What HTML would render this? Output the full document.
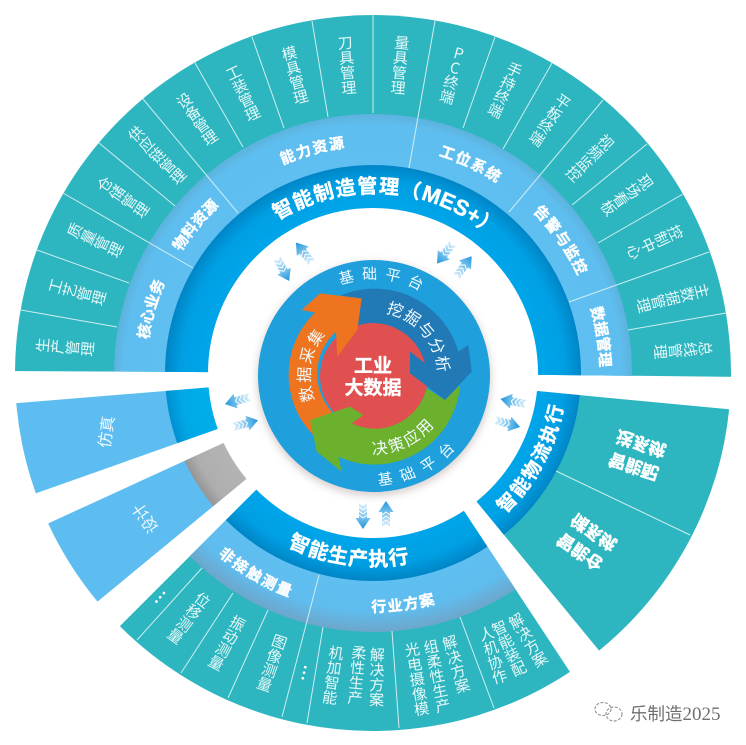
<!DOCTYPE html>
<html><head><meta charset="utf-8">
<style>
html,body{margin:0;padding:0;background:#fff;width:746px;height:745px;overflow:hidden}
svg{display:block}
text{font-family:"Liberation Sans","Noto Sans CJK SC",sans-serif}
.v{writing-mode:vertical-rl;text-anchor:middle;font-size:15px;fill:#e6f8f8;font-family:"Noto Sans CJK SC",sans-serif;font-weight:400}
.b{font-weight:700;fill:#fff;font-size:15px;text-anchor:middle;stroke:#fff;stroke-width:.35}
.c{fill:#f2fbfe;font-size:15px;text-anchor:middle;font-family:"Noto Sans CJK SC",sans-serif}
.d{stroke:#cdeef0;stroke-width:1;fill:none}
.dot{font-weight:700;font-size:17px;fill:#fff}
</style></head><body>
<svg width="746" height="745" viewBox="0 0 746 745" xmlns="http://www.w3.org/2000/svg">
<defs>
<clipPath id="cTop"><polygon points="0,371 373,373 746,377 746,0 0,0"/></clipPath>
<clipPath id="cRight"><polygon points="373,375.5 800,416 800,895"/></clipPath>
<clipPath id="cBottom"><polygon points="373,373 628,760 -14,760"/></clipPath>
<clipPath id="cLeft"><polygon points="373,374 0,404.5 0,506"/></clipPath>
<clipPath id="cDesign"><polygon points="373,374.5 0,545.5 0,682"/></clipPath>
<radialGradient id="gBlue" gradientUnits="userSpaceOnUse" cx="373" cy="373" r="208">
<stop offset=".79" stop-color="#00a5e9"/><stop offset=".92" stop-color="#009fe3"/><stop offset="1" stop-color="#0085c6"/></radialGradient>
<radialGradient id="gLightT" gradientUnits="userSpaceOnUse" cx="373" cy="373" r="259">
<stop offset=".8" stop-color="#5fbff0"/><stop offset=".96" stop-color="#5fbef0"/><stop offset="1" stop-color="#5cb2dc"/></radialGradient>
<radialGradient id="gLight" gradientUnits="userSpaceOnUse" cx="373" cy="373" r="259">
<stop offset=".8" stop-color="#5fbff0"/><stop offset=".92" stop-color="#5fbdee"/><stop offset="1" stop-color="#6da6cb"/></radialGradient>
<radialGradient id="gLeftBlue" gradientUnits="userSpaceOnUse" cx="373" cy="373" r="208">
<stop offset=".79" stop-color="#00aeea"/><stop offset=".93" stop-color="#00a8e6"/><stop offset="1" stop-color="#0090d0"/></radialGradient>
<radialGradient id="gGray" gradientUnits="userSpaceOnUse" cx="373" cy="373" r="208">
<stop offset=".79" stop-color="#b4b4b4"/><stop offset=".94" stop-color="#aeaeae"/><stop offset="1" stop-color="#959595"/></radialGradient>
<linearGradient id="gAr" gradientUnits="userSpaceOnUse" x1="0" y1="0" x2="26" y2="0">
<stop offset="0" stop-color="#e2f3fb"/><stop offset=".45" stop-color="#8ccbf0"/><stop offset="1" stop-color="#1f96dc"/></linearGradient>
<filter id="sh" x="-20%" y="-20%" width="140%" height="140%"><feGaussianBlur stdDeviation="4"/></filter>
<g id="ar">
<polygon points="0,-4 15,-4 15,-7.5 26,0 15,7.5 15,4 0,4 3,0" fill="url(#gAr)"/>
<path d="M4 -4L7 0L4 4M8 -4L11 0L8 4M12 -4L15 0L12 4" stroke="#fff" stroke-width="1" fill="none"/>
</g>
<path id="t227" d="M212.5 533.5A227 227 0 1 1 533.5 533.5"/>
<path id="t180" d="M193 373A180 180 0 0 1 553 373"/>
<path id="b239" d="M134 373A239 239 0 0 0 612 373"/>
<path id="b193" d="M180 373A193 193 0 0 0 566 373"/>
<path id="h97" d="M277 376A97 97 0 0 1 471 376"/>
<path id="h109" d="M265 376A109 109 0 0 0 483 376"/>
<path id="h64" d="M328.7 421.3A64 64 0 1 1 419.3 421.3"/>
<path id="h78" d="M296 376A78 78 0 0 0 452 376"/>
</defs>

<!-- top sector -->
<g clip-path="url(#cTop)">
<circle cx="373" cy="373" r="358" fill="#2db6c0"/>
<circle cx="373" cy="373" r="259" fill="url(#gLightT)"/>
<circle cx="373" cy="373" r="208" fill="url(#gBlue)"/>
</g>
<!-- right sector -->
<g clip-path="url(#cRight)">
<circle cx="373" cy="373" r="358" fill="#2db6c0"/>
<circle cx="373" cy="373" r="208" fill="url(#gBlue)"/>
</g>
<!-- bottom sector -->
<g clip-path="url(#cBottom)">
<circle cx="373" cy="373" r="358" fill="#2db6c0"/>
<circle cx="373" cy="373" r="259" fill="url(#gLight)"/>
<circle cx="373" cy="373" r="208" fill="url(#gBlue)"/>
</g>
<!-- left sector -->
<g clip-path="url(#cLeft)">
<circle cx="373" cy="373" r="358" fill="#5dbdf0"/>
<circle cx="373" cy="373" r="208" fill="url(#gLeftBlue)"/>
</g>
<!-- design sector -->
<g clip-path="url(#cDesign)">
<circle cx="373" cy="373" r="358" fill="#5dbdf0"/>
<circle cx="373" cy="373" r="208" fill="url(#gGray)"/>
</g>
<circle cx="373" cy="373" r="165" fill="#fff"/>

<!-- dividers -->
<g class="d">
<line x1="21" y1="310" x2="117" y2="327"/><line x1="37" y1="250" x2="129" y2="283"/>
<line x1="63" y1="193" x2="193" y2="268"/><line x1="99" y1="143" x2="175" y2="206"/>
<line x1="143" y1="99" x2="238" y2="213"/><line x1="195" y1="63" x2="243" y2="147"/>
<line x1="252" y1="37" x2="284" y2="128"/><line x1="312" y1="21" x2="328" y2="117"/>
<line x1="373" y1="15" x2="373" y2="113"/><line x1="435" y1="21" x2="409" y2="168"/>
<line x1="495" y1="37" x2="463" y2="128"/><line x1="552" y1="63" x2="503" y2="149"/>
<line x1="603" y1="100" x2="509" y2="212"/><line x1="647" y1="144" x2="572" y2="205"/>
<line x1="683" y1="194" x2="598" y2="243"/><line x1="709" y1="252" x2="569" y2="302"/>
<line x1="726" y1="313" x2="628" y2="330"/>
<line x1="137" y1="640" x2="202" y2="568"/><line x1="181" y1="673" x2="233" y2="593"/>
<line x1="228" y1="698" x2="268" y2="610"/><line x1="282" y1="717" x2="319" y2="575"/>
<line x1="307" y1="723" x2="323" y2="627"/><line x1="399" y1="728" x2="392" y2="631"/>
<line x1="494" y1="708" x2="460" y2="617"/><line x1="556" y1="471" x2="690" y2="535"/>
</g>

<!-- radial labels top -->
<text class="v" x="65" y="347" transform="rotate(-85 65 347)">生产管理</text>
<text class="v" x="77" y="292" transform="rotate(-74.7 77 292)">工艺管理</text>
<text class="v" x="95" y="240" transform="rotate(-64.4 95 240)">质量管理</text>
<text class="v" x="123" y="197" transform="rotate(-54.8 123 197)">仓储管理</text>
<text class="v" x="157" y="155" transform="rotate(-44.7 157 155)">供应链管理</text>
<text class="v" x="197" y="119" transform="rotate(-34.7 197 119)">设备管理</text>
<text class="v" x="243" y="93" transform="rotate(-24.9 243 93)">工装管理</text>
<text class="v" x="295" y="75" transform="rotate(-14.7 295 75)">模具管理</text>
<text class="v" x="347" y="65" transform="rotate(-4.8 347 65)">刀具管理</text>
<text class="v" x="400" y="65" transform="rotate(5 400 65)">量具管理</text>
<text class="v" x="453" y="75" transform="rotate(15 453 75)" style="text-orientation:upright">PC终端</text>
<text class="v" x="505" y="90" transform="rotate(25 505 90)">手持终端</text>
<text class="v" x="550" y="120" transform="rotate(35 550 120)">平板终端</text>
<text class="v" x="590" y="158" transform="rotate(45.3 590 158)">视频监控</text>
<text class="v" x="627" y="195" transform="rotate(55 627 195)">现场看板</text>
<text class="v" x="655" y="242" transform="rotate(65 655 242)">控制中心</text>
<text class="v" x="673" y="298" transform="rotate(76 673 298)">主数据管理</text>
<text class="v" x="683" y="350" transform="rotate(85.8 683 350)">总线管理</text>

<!-- light ring top -->
<text class="b"><textPath href="#t227" startOffset="22.6%">核心业务</textPath></text>
<text class="b"><textPath href="#t227" startOffset="31.4%">物料资源</textPath></text>
<text class="b" letter-spacing="1.5"><textPath href="#t227" startOffset="44.4%">能力资源</textPath></text>
<text class="b" letter-spacing="1.5"><textPath href="#t227" startOffset="59.3%">工位系统</textPath></text>
<text class="b" letter-spacing="1"><textPath href="#t227" startOffset="70.3%">告警与监控</textPath></text>
<text class="b"><textPath href="#t227" startOffset="80%">数据管理</textPath></text>
<text class="b" style="font-size:20px" letter-spacing="1.2"><textPath href="#t180" startOffset="52.6%">智能制造管理（<tspan style="font-size:22px" letter-spacing="0">MES+</tspan>）</textPath></text>

<!-- bottom sector labels -->
<text class="b" style="font-size:20px" letter-spacing="1"><textPath href="#b193" startOffset="45.8%">智能生产执行</textPath></text>
<text class="b" style="font-size:19px" letter-spacing="2"><textPath href="#b193" startOffset="84.4%">智能物流执行</textPath></text>
<text class="b" letter-spacing="2"><textPath href="#b239" startOffset="33.2%">非接触测量</textPath></text>
<text class="b" letter-spacing="1.5"><textPath href="#b239" startOffset="54.2%">行业方案</textPath></text>

<text class="v dot" x="161" y="598" transform="rotate(41 161 598)">…</text>
<text class="v" x="189" y="618" transform="rotate(36.9 189 618)">位移测量</text>
<text class="v" x="227" y="643" transform="rotate(28.4 227 643)">振动测量</text>
<text class="v" x="272" y="663" transform="rotate(19.2 272 663)">图像测量</text>
<text class="v dot" x="305" y="673" transform="rotate(12.8 305 673)">…</text>
<text class="v" x="333" y="675" transform="rotate(8 333 675)">机加智能</text>
<text class="v" x="357" y="675" transform="rotate(5 357 675)">柔性生产</text>
<text class="v" x="377" y="677" transform="rotate(1 377 677)">解决方案</text>
<text class="v" x="417" y="679" transform="rotate(-9 417 679)">光电摄像模</text>
<text class="v" x="437" y="676" transform="rotate(-11.3 437 676)">组柔性生产</text>
<text class="v" x="456" y="664" transform="rotate(-16 456 664)">解决方案</text>
<text class="v" x="493" y="655" transform="rotate(-16.5 493 655)">人机协作</text>
<text class="v" x="509" y="648" transform="rotate(-25 509 648)">智能装配</text>
<text class="v" x="528" y="640" transform="rotate(-31 528 640)">解决方案</text>

<!-- right sector text -->
<g transform="translate(637.5 455) rotate(18) scale(1 -1)">
<text class="b" style="font-size:17px;stroke-width:.5" y="-6">智能配</text>
<text class="b" style="font-size:17px;stroke-width:.5" y="18">送系统</text>
</g>
<g transform="translate(587 542) rotate(34.6) scale(1 -1)">
<text class="b" style="font-size:17px;stroke-width:.5" y="-6">智能仓</text>
<text class="b" style="font-size:17px;stroke-width:.5" y="18">储系统</text>
</g>

<!-- left text -->
<text x="0" y="5" fill="#eef9fe" style="font-size:16px;text-anchor:middle;font-family:'Noto Sans CJK SC',sans-serif" transform="translate(107 432) rotate(-82)">仿真</text>
<text x="0" y="5" fill="#eef9fe" style="font-size:16px;text-anchor:middle;font-family:'Noto Sans CJK SC',sans-serif" transform="translate(146 518) rotate(-125)">设计</text>

<!-- small arrows -->
<use href="#ar" transform="translate(312 263) rotate(-128)"/>
<use href="#ar" transform="translate(277 258) rotate(62)"/>
<use href="#ar" transform="translate(453 243) rotate(128)"/>
<use href="#ar" transform="translate(456 277) rotate(-53)"/>
<use href="#ar" transform="translate(250 397) rotate(164)"/>
<use href="#ar" transform="translate(233 427) rotate(-15)"/>
<use href="#ar" transform="translate(363 503) rotate(90)"/>
<use href="#ar" transform="translate(386 527) rotate(-90)"/>
<use href="#ar" transform="translate(526 404) rotate(-169)"/>
<use href="#ar" transform="translate(495 420) rotate(15.6)"/>

<!-- hub -->
<circle cx="374" cy="379" r="117" fill="#b9a9a9" opacity=".55" filter="url(#sh)"/>
<circle cx="374" cy="376" r="116" fill="#1f9fdc"/>
<circle cx="374" cy="376" r="54" fill="#e05050"/>
<g transform="translate(250 260) scale(.33333)">
<path d="M275 105A262 262 0 0 1 625 275L655 255L665 335L585 420L480 340L480 275L525 310A162 162 0 0 0 310 200Z" fill="#2179b5"/>
<path d="M190 525A258 258 0 0 1 195 158L155 150L210 100L335 115L322 210L262 290L258 215A170 170 0 0 0 245 455Z" fill="#ee7420"/>
<path d="M180 480L300 440L340 465L305 490A160 160 0 0 0 530 385L585 420L630 375A258 258 0 0 1 265 590L275 635L200 575Z" fill="#6bb12e"/>
</g>
<text class="c" letter-spacing="7.5"><textPath href="#h97" startOffset="53.5%">基础平台</textPath></text>
<text class="c" letter-spacing="9"><textPath href="#h109" startOffset="65.4%">基础平台</textPath></text>
<text class="c" style="font-size:16px" letter-spacing="1.3"><textPath href="#h64" startOffset="68.3%">挖掘与分析</textPath></text>
<text class="c" style="font-size:16px" letter-spacing="2"><textPath href="#h64" startOffset="20.4%">数据采集</textPath></text>
<text class="c" style="font-size:16px" letter-spacing="2"><textPath href="#h78" startOffset="64.1%">决策应用</textPath></text>
<text class="b" style="font-size:19px" x="373" y="372">工业</text>
<text class="b" style="font-size:19px" x="373" y="394">大数据</text>

<!-- watermark -->
<g fill="none" stroke="#9a9a9a" stroke-width="1.2" stroke-dasharray="3 1.5">
<ellipse cx="603" cy="709" rx="8" ry="6.5"/>
<ellipse cx="614" cy="714" rx="8" ry="7"/>
</g>
<text x="630" y="720" fill="#6f6f6f" style="font-size:17.5px;font-family:'Noto Sans CJK SC',sans-serif">乐制造<tspan style="font-family:'Liberation Serif',serif;font-size:19px">2025</tspan></text>
</svg>
</body></html>
